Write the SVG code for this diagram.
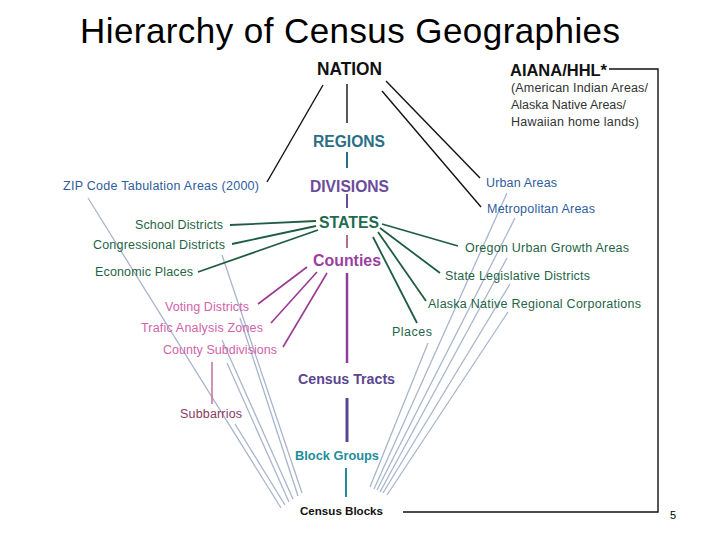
<svg xmlns="http://www.w3.org/2000/svg" width="720" height="540" viewBox="0 0 720 540">
<style>
text{font-family:"Liberation Sans",Arial,Helvetica,sans-serif}
.title{font-size:35px;fill:#000}
.hdr{font-weight:bold}
.sm{font-size:12.5px}
.blue{fill:#2f5c9e}
.green{fill:#1f6448}
.pink{fill:#d263a9}
.gray{fill:#333}
.k{stroke:#111;stroke-width:1.4;fill:none}
.g{stroke:#1f5c44;stroke-width:1.8;fill:none}
.p{stroke:#9a3a92;stroke-width:1.6;fill:none}
.f{stroke:#a9b5cc;stroke-width:1.3;fill:none}
</style>
<rect width="720" height="540" fill="#fff"/>
<text class="title" x="80" y="43" textLength="540">Hierarchy of Census Geographies</text>
<text x="670" y="519" font-size="11" fill="#000">5</text>

<g id="connectors">
  <g id="fan-left">
    <line class="f" x1="88" y1="198" x2="281" y2="508"/>
    <line class="f" x1="222" y1="255" x2="302" y2="493"/>
    <line class="f" x1="240" y1="318" x2="298" y2="496"/>
    <line class="f" x1="222" y1="340" x2="293" y2="499"/>
    <line class="f" x1="227" y1="363" x2="289" y2="502"/>
    <line class="f" x1="235" y1="424" x2="285" y2="505"/>
  </g>
  <g id="fan-right">
    <line class="f" x1="428" y1="343" x2="370" y2="487"/>
    <line class="f" x1="507" y1="193" x2="374" y2="489"/>
    <line class="f" x1="515" y1="218" x2="377" y2="490"/>
    <line class="f" x1="507" y1="258" x2="380" y2="492"/>
    <line class="f" x1="510" y1="284" x2="383" y2="493"/>
    <line class="f" x1="508" y1="312" x2="387" y2="495"/>
  </g>
  <path class="k" d="M609 69 H658 V512 H403"/>
  <line class="k" x1="347" y1="84" x2="347" y2="123"/>
  <line class="k" x1="323" y1="85" x2="267" y2="182"/>
  <line class="k" x1="386" y1="81" x2="480" y2="178"/>
  <line class="k" x1="382" y1="91" x2="481" y2="207"/>
  <line x1="347" y1="152" x2="347" y2="168" stroke="#2a6e86" stroke-width="2"/>
  <line x1="347" y1="194" x2="347" y2="208" stroke="#6b4c9a" stroke-width="2"/>
  <line x1="347" y1="235" x2="347" y2="248" stroke="#b07080" stroke-width="2"/>
  <line x1="347" y1="273" x2="347" y2="363" stroke="#8e3e9a" stroke-width="2.5"/>
  <line x1="347" y1="398" x2="347" y2="442" stroke="#5a4590" stroke-width="3"/>
  <line x1="346" y1="468" x2="346" y2="497" stroke="#1e8c9c" stroke-width="2"/>
  <line class="g" x1="230" y1="225" x2="316" y2="221"/>
  <line class="g" x1="232" y1="244" x2="316" y2="226"/>
  <line class="g" x1="198" y1="272" x2="318" y2="230"/>
  <line class="g" x1="382" y1="224" x2="458" y2="246"/>
  <line class="g" x1="380" y1="228" x2="440" y2="273"/>
  <line class="g" x1="378" y1="232" x2="426" y2="301"/>
  <line class="g" x1="373" y1="237" x2="417" y2="323"/>
  <line class="p" x1="258" y1="304" x2="307" y2="267"/>
  <line class="p" x1="271" y1="323" x2="317" y2="272"/>
  <line class="p" x1="283" y1="347" x2="327" y2="273"/>
  <line x1="212" y1="362" x2="212" y2="404" stroke="#c070a0" stroke-width="1.5"/>
</g>

<g id="nation"><text class="hdr" x="317" y="75" font-size="19" textLength="65" lengthAdjust="spacingAndGlyphs" fill="#111">NATION</text></g>
<g id="aiana">
  <text class="hdr" x="510" y="76" font-size="16" textLength="97" lengthAdjust="spacingAndGlyphs" fill="#111">AIANA/HHL*</text>
  <text class="sm gray" x="511" y="92" textLength="137">(American Indian Areas/</text>
  <text class="sm gray" x="511" y="109" textLength="115">Alaska Native Areas/</text>
  <text class="sm gray" x="511" y="126" textLength="128">Hawaiian home lands)</text>
</g>
<g id="regions"><text class="hdr" x="313" y="147" font-size="16" textLength="72" lengthAdjust="spacingAndGlyphs" fill="#2a6e86">REGIONS</text></g>
<g id="divisions"><text class="hdr" x="310" y="192" font-size="16" textLength="79" lengthAdjust="spacingAndGlyphs" fill="#6b4c9a">DIVISIONS</text></g>
<g id="states"><text class="hdr" x="319" y="228" font-size="16" textLength="60" lengthAdjust="spacingAndGlyphs" fill="#1f6b4f">STATES</text></g>
<g id="counties"><text class="hdr" x="313" y="266" font-size="16" textLength="68" lengthAdjust="spacingAndGlyphs" fill="#9a3fa0">Counties</text></g>
<g id="census-tracts"><text class="hdr" x="298" y="384" font-size="14" textLength="97" lengthAdjust="spacingAndGlyphs" fill="#5a4590">Census Tracts</text></g>
<g id="block-groups"><text class="hdr" x="295" y="460" font-size="13" textLength="84" lengthAdjust="spacingAndGlyphs" fill="#1e8c9c">Block Groups</text></g>
<g id="census-blocks"><text class="hdr" x="300" y="515" font-size="11.5" textLength="83" lengthAdjust="spacingAndGlyphs" fill="#111">Census Blocks</text></g>

<g id="zcta"><text class="sm blue" x="63" y="190" textLength="196">ZIP Code Tabulation Areas (2000)</text></g>
<g id="urban-areas"><text class="sm blue" x="486" y="187" textLength="71">Urban Areas</text></g>
<g id="metro-areas"><text class="sm blue" x="487" y="213" textLength="108">Metropolitan Areas</text></g>
<g id="school-districts"><text class="sm green" x="135" y="229" textLength="88">School Districts</text></g>
<g id="congressional-districts"><text class="sm green" x="93" y="249" textLength="132">Congressional Districts</text></g>
<g id="economic-places"><text class="sm green" x="95" y="276" textLength="98">Economic Places</text></g>
<g id="oregon-uga"><text class="sm green" x="465" y="252" textLength="164">Oregon Urban Growth Areas</text></g>
<g id="state-leg"><text class="sm green" x="445" y="280" textLength="145">State Legislative Districts</text></g>
<g id="anrc"><text class="sm green" x="428" y="308" textLength="213">Alaska Native Regional Corporations</text></g>
<g id="places"><text class="sm green" x="392" y="336" textLength="40">Places</text></g>
<g id="voting-districts"><text class="sm pink" x="165" y="311" textLength="84">Voting Districts</text></g>
<g id="taz"><text class="sm pink" x="141" y="332" textLength="122">Trafic Analysis Zones</text></g>
<g id="county-subdivisions"><text class="sm pink" x="163" y="354" textLength="114">County Subdivisions</text></g>
<g id="subbarrios"><text class="sm" x="180" y="418" textLength="62" fill="#8a3a62">Subbarrios</text></g>
</svg>
